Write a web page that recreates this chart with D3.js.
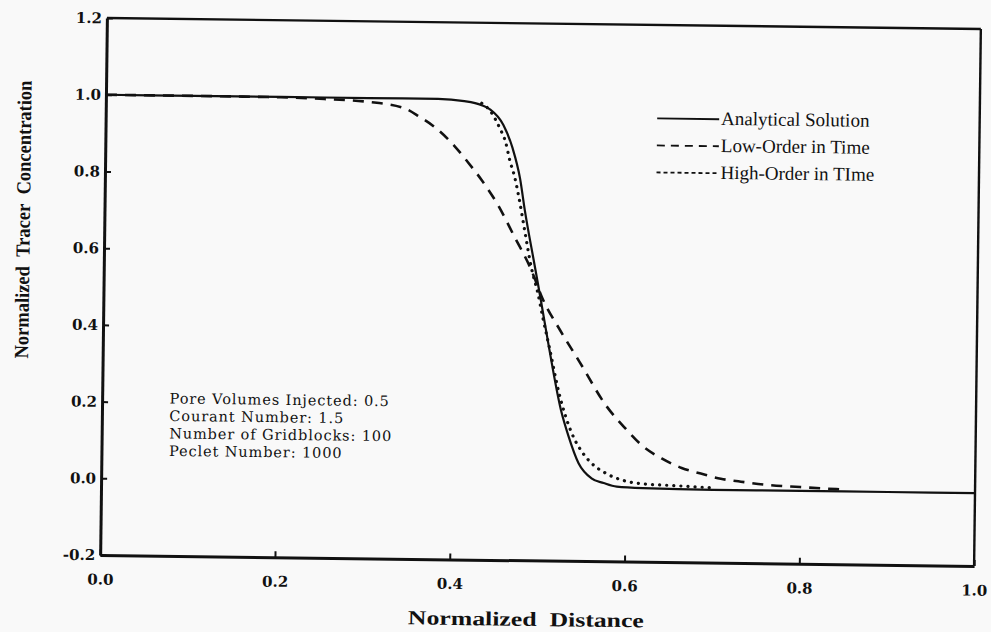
<!DOCTYPE html>
<html>
<head>
<meta charset="utf-8">
<script src="https://cdn.jsdelivr.net/npm/d3@7"></script>
<style>
  body { margin: 0; background: #f9f9f9; }
  svg { display: block; }
  .tick text { font-family: "DejaVu Serif", serif; font-weight: bold; font-size: 15px; fill: #111; }
  .tick line { stroke: #111; stroke-width: 2; }
  .domain { stroke: #111; stroke-width: 3; }
</style>
</head>
<body>
<div id="chart"></div>
<script>
// tracer front after 0.5 pore volumes

const xTicks = [0.0, 0.2, 0.4, 0.6, 0.8, 1.0];
const yTicks = [-0.2, 0.0, 0.2, 0.4, 0.6, 0.8, 1.0, 1.2];

const analyticalX = [0, 0.1, 0.2, 0.3, 0.38, 0.41, 0.43, 0.44, 0.455, 0.466, 0.475, 0.481, 0.492, 0.5, 0.511, 0.525, 0.534, 0.546, 0.561, 0.575, 0.59, 0.62, 0.7, 0.8, 0.9, 1.0];
const analyticalY = [1, 1, 1, 1, 1, 0.995, 0.985, 0.974, 0.935, 0.874, 0.795, 0.711, 0.58, 0.485, 0.35, 0.194, 0.126, 0.055, 0.016, 0.004, -0.005, -0.008, -0.01, -0.01, -0.01, -0.01];

const lowOrderX = [0, 0.1, 0.2, 0.25, 0.3, 0.34, 0.359, 0.378, 0.399, 0.414, 0.431, 0.451, 0.469, 0.489, 0.503, 0.523, 0.546, 0.577, 0.6, 0.618, 0.641, 0.664, 0.686, 0.709, 0.729, 0.76, 0.8, 0.85];
const lowOrderY = [1, 1, 0.999, 0.996, 0.99, 0.976, 0.953, 0.924, 0.879, 0.839, 0.79, 0.722, 0.645, 0.558, 0.48, 0.401, 0.318, 0.205, 0.145, 0.104, 0.07, 0.046, 0.032, 0.019, 0.013, 0.005, 0, -0.005];

const highOrderX = [0.43, 0.44, 0.451, 0.458, 0.463, 0.469, 0.474, 0.481, 0.489, 0.497, 0.503, 0.511, 0.523, 0.538, 0.549, 0.561, 0.577, 0.6, 0.622, 0.652, 0.7];
const highOrderY = [0.99, 0.97, 0.926, 0.889, 0.842, 0.797, 0.745, 0.66, 0.565, 0.497, 0.434, 0.355, 0.234, 0.132, 0.087, 0.055, 0.03, 0.01, 0.003, 0, -0.005];

const seriesNames = ["Analytical Solution", "Low-Order in Time", "High-Order in TIme"];

const notes = [
    "Pore Volumes Injected: 0.5",
    "Courant Number: 1.5",
    "Number of Gridblocks: 100",
    "Peclet Number: 1000"
];

const W = 991, H = 632;
const margin = { top: 23.5, right: 13.5, bottom: 71.5, left: 103.5 };
const width = W - margin.left - margin.right;
const height = H - margin.top - margin.bottom;

const svg = d3.select("#chart").append("svg")
    .attr("width", W)
    .attr("height", H);

svg.append("rect").attr("width", W).attr("height", H).attr("fill", "#f9f9f9");

// the scan is tilted a little clockwise
const root = svg.append("g").attr("transform", "rotate(0.72, 540, 292)");
const g = root.append("g").attr("transform", `translate(${margin.left},${margin.top})`);

const x = d3.scaleLinear().domain([0, 1]).range([0, width]);
const y = d3.scaleLinear().domain([-0.2, 1.2]).range([height, 0]);

const fmt = d => d.toFixed(1);

g.append("g")
    .attr("transform", `translate(0,${height})`)
    .call(d3.axisBottom(x).tickValues(xTicks).tickFormat(fmt).tickSizeInner(-6).tickSizeOuter(0).tickPadding(19));

g.append("g")
    .call(d3.axisLeft(y).tickValues(yTicks).tickFormat(fmt).tickSizeInner(-6).tickSizeOuter(0).tickPadding(5));

// top and right frame lines
g.append("line").attr("x1", 0).attr("x2", width).attr("y1", 0).attr("y2", 0)
    .attr("stroke", "#111").attr("stroke-width", 2.4);
g.append("line").attr("x1", width).attr("x2", width).attr("y1", 0).attr("y2", height)
    .attr("stroke", "#111").attr("stroke-width", 2.4);

const line = d3.line()
    .x(d => x(d[0]))
    .y(d => y(d[1]))
    .curve(d3.curveMonotoneX);

const series = [
    { pts: d3.zip(analyticalX, analyticalY), width: 2.2, dash: null, cap: "butt" },
    { pts: d3.zip(lowOrderX, lowOrderY), width: 2.6, dash: "11,8", cap: "butt" },
    { pts: d3.zip(highOrderX, highOrderY), width: 3.2, dash: "0.1,7", cap: "round" }
];

g.selectAll(".series")
    .data(series)
    .join("path")
    .attr("class", "series")
    .attr("d", d => line(d.pts))
    .attr("fill", "none")
    .attr("stroke", "#111")
    .attr("stroke-width", d => d.width)
    .attr("stroke-dasharray", d => d.dash)
    .attr("stroke-linecap", d => d.cap);

// legend
const legendDash = [null, "8,6", "4,3"];
const legend = g.append("g").attr("transform", `translate(${655 - margin.left},${116 - margin.top})`);
seriesNames.forEach((name, i) => {
    legend.append("line")
        .attr("x1", 0).attr("x2", 62)
        .attr("y1", i * 27 + 1).attr("y2", i * 27 + 1)
        .attr("stroke", "#111")
        .attr("stroke-width", 1.8)
        .attr("stroke-dasharray", legendDash[i]);
    legend.append("text")
        .attr("x", 64)
        .attr("y", i * 27)
        .attr("dy", "0.35em")
        .style("font-family", "'Liberation Serif', serif")
        .style("font-size", "19px")
        .attr("fill", "#111")
        .text(name);
});

// run parameters
g.append("g")
    .attr("transform", `translate(${171 - margin.left},${403 - margin.top})`)
    .selectAll("text")
    .data(notes)
    .join("text")
    .attr("y", (d, i) => i * 17.5)
    .attr("dy", "0.35em")
    .style("font-family", "'DejaVu Serif', serif")
    .style("font-size", "14.5px")
    .style("letter-spacing", "0.9px")
    .attr("fill", "#111")
    .text(d => d);

// axis titles
root.append("text")
    .attr("transform", "translate(29,226) rotate(-90)")
    .attr("text-anchor", "middle")
    .attr("textLength", 278)
    .attr("lengthAdjust", "spacingAndGlyphs")
    .style("font-family", "'Liberation Serif', serif")
    .style("font-weight", "bold")
    .style("font-size", "20px")
    .attr("fill", "#111")
    .text("Normalized\u00a0\u00a0Tracer\u00a0\u00a0Concentration");

root.append("text")
    .attr("x", 530)
    .attr("y", 619)
    .attr("dy", "0.35em")
    .attr("text-anchor", "middle")
    .attr("textLength", 236)
    .attr("lengthAdjust", "spacingAndGlyphs")
    .style("font-family", "'Liberation Serif', serif")
    .style("font-weight", "bold")
    .style("font-size", "20px")
    .attr("fill", "#111")
    .text("Normalized\u00a0\u00a0Distance");
</script>
</body>
</html>
